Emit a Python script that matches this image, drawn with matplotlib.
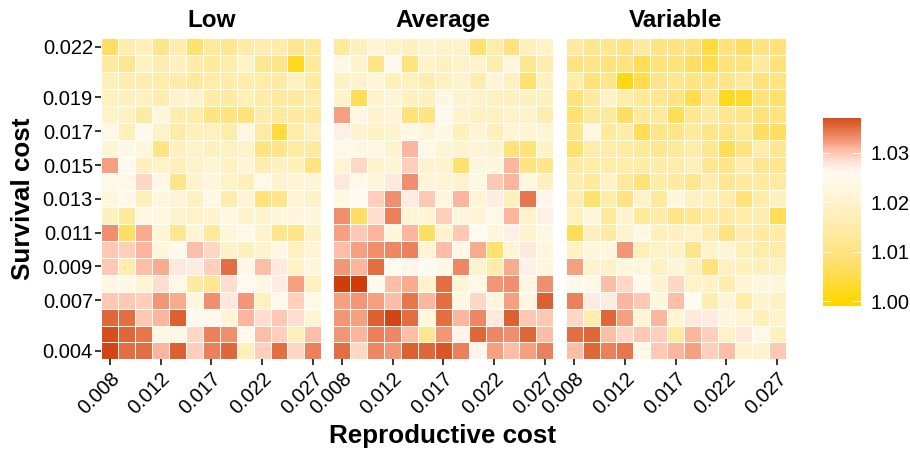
import numpy as np
import matplotlib.pyplot as plt
from matplotlib.colors import LinearSegmentedColormap, Normalize

plt.rcParams['font.family'] = ['Liberation Sans', 'DejaVu Sans']

# cell values as thousandths above 1, rows listed top to bottom
low = [
    [7, 16, 17, 11, 16, 8, 13, 12, 15, 16, 15, 12, 13],
    [14, 12, 18, 16, 18, 15, 13, 15, 19, 12, 11, 2, 13],
    [17, 16, 16, 15, 15, 13, 15, 15, 15, 15, 14, 18, 14],
    [18, 18, 18, 16, 20, 20, 15, 14, 17, 15, 14, 14, 15],
    [19, 18, 14, 22, 16, 15, 10, 10, 9, 15, 13, 14, 14],
    [24, 17, 25, 19, 15, 17, 18, 15, 23, 14, 4, 15, 18],
    [21, 24, 22, 10, 18, 19, 18, 18, 19, 10, 11, 14, 14],
    [32, 25, 18, 19, 17, 19, 21, 18, 21, 16, 18, 17, 10],
    [24, 24, 29, 24, 11, 20, 22, 19, 17, 24, 20, 21, 21],
    [22, 24, 17, 22, 21, 18, 24, 15, 21, 9, 11, 21, 19],
    [18, 13, 23, 23, 20, 19, 20, 23, 20, 20, 22, 22, 22],
    [33, 7, 31.5, 21, 12, 21, 13, 22, 24, 20, 11, 11, 19],
    [30, 29.5, 31, 22, 25, 30.5, 29, 19, 18, 20, 23, 18, 21],
    [30, 16, 30.5, 31.5, 28, 27.5, 29.5, 35, 24, 30.5, 28, 19, 22],
    [23, 24, 21, 28.5, 24, 14, 12, 28.5, 26, 23, 27.5, 32, 18],
    [30, 30, 29.5, 32.5, 31.5, 22, 33, 28, 32.5, 18, 24, 29.5, 24],
    [35.5, 35, 30, 31, 36, 25, 25, 21, 31, 28.5, 30, 28.5, 21],
    [37, 35.5, 34.5, 23, 24, 29, 34, 33, 25, 30.5, 29.5, 17, 30.5],
    [37.5, 35, 35, 31, 36, 29.5, 34, 35.5, 17, 29.5, 35, 29, 34],
]
average = [
    [13, 17, 21, 19, 18, 20, 19, 19, 8, 15, 9, 17, 19],
    [24, 20, 11, 25, 10, 19, 18, 19, 20, 16, 22, 12, 16],
    [19, 20, 22, 17, 18, 16, 18, 20, 16, 21, 18, 8, 18],
    [20, 6, 20, 21, 18, 18, 23, 20, 20, 18, 18, 18, 18],
    [32, 23, 20, 21, 9, 10, 25, 20, 18, 18, 19, 19, 16],
    [27, 20, 19, 20, 23, 21, 24, 17, 21, 17, 21, 21, 21],
    [24, 23, 23, 20, 31, 24, 21, 20, 21, 20, 9, 9, 19],
    [21, 29, 20, 21, 29.5, 20, 20, 8, 22, 22, 31, 10, 11],
    [28, 24, 22, 28, 33, 21, 21, 20, 23, 30, 31, 23, 18],
    [23, 26, 29.5, 33, 27.5, 30, 22, 31, 21, 27.5, 17, 34.5, 26.5],
    [33, 7, 28.5, 34, 21, 21, 29.5, 22, 21, 24, 31, 20, 27],
    [32, 30, 31, 22, 31, 7, 20, 30, 26, 22, 27, 20, 23],
    [30.5, 32, 33, 33.5, 34, 21, 30.5, 24, 31.5, 8, 21, 28, 22],
    [32.5, 31, 35, 26, 26.5, 26, 24, 33.5, 20, 15, 31.5, 27, 22],
    [38, 38, 26, 30.5, 31.5, 20, 35, 21, 24, 32.5, 33, 23, 33],
    [32, 32.5, 32, 30.5, 34.5, 31, 35, 23, 29, 22, 32, 23, 36],
    [32.5, 32, 36, 37.5, 35, 22, 35, 31, 33.5, 28, 36, 30, 30],
    [32.5, 31, 34, 33.5, 30.5, 12, 32.5, 26.5, 35.5, 33.5, 33, 35.5, 30.5],
    [35, 29, 33.5, 32.5, 36, 35.5, 36.5, 34, 26.5, 32, 30.5, 32, 34],
]
variable = [
    [14, 12, 12, 10, 14, 10, 10, 9, 4, 9, 7, 10, 9],
    [10, 11, 9, 10, 6, 9, 9, 7, 5, 9, 10, 14, 9],
    [15, 9, 11, 1, 5, 11, 12, 10, 10, 11, 13, 9, 10],
    [9, 14, 19, 15, 13, 12, 10, 5, 12, 2, 3, 9, 8],
    [8, 13, 13, 7, 13, 13, 6, 12, 14, 12, 11, 9, 10],
    [11, 23, 13, 15, 6, 11, 11, 13, 11, 11, 13, 7, 7],
    [8, 15, 15, 14, 13, 12, 13, 15, 12, 6, 10, 15, 12],
    [14, 15, 15, 15, 15, 15, 15, 17, 12, 11, 16, 12, 12],
    [16, 14, 19, 13, 9, 15, 14, 12, 16, 12, 14, 14, 14],
    [16, 8, 15, 10, 19, 13, 22, 18, 17, 15, 9, 15, 18],
    [18, 22, 13, 20, 13, 15, 11, 12, 14, 14, 15, 16, 6],
    [6, 18, 14, 20, 24, 17, 18, 19, 16, 10, 16, 14, 15],
    [19, 22, 22, 32.5, 17, 19, 19, 11, 20, 21, 17, 15, 15],
    [32, 20, 19, 22, 22, 18, 21, 17, 9, 18, 17, 17, 18],
    [25, 24, 30.5, 29, 25, 20, 29, 19, 19, 16, 21, 22, 22],
    [34, 27.5, 27.5, 31, 30, 22, 30.5, 26, 16, 21, 15, 20, 18],
    [29, 16, 35.5, 32, 21, 31, 21, 28, 27.5, 22, 21, 17, 20],
    [35, 35.5, 30.5, 29, 30, 29.5, 14, 31, 29.5, 19, 28, 24, 18],
    [30.5, 35.5, 34, 34.5, 24, 30, 31, 32, 29.5, 30.5, 20, 20, 30],
]
panel_names = ['Low', 'Average', 'Variable']
x_tick_cols = [0, 3, 6, 9, 12]
x_tick_labels = ['0.008', '0.012', '0.017', '0.022', '0.027']
y_tick_rows = [0, 3, 5, 7, 9, 11, 13, 15, 18]
y_tick_labels = ['0.022', '0.019', '0.017', '0.015', '0.013', '0.011', '0.009', '0.007', '0.004']
legend_ticks = [1.00, 1.01, 1.02, 1.03]

vmin, vmax = 0.9991, 1.0385
legend_top = 1.037
stops = [(0.0, '#FFD700'), (5.0, '#FFDD4D'), (9.0, '#FFE27A'), (13.0, '#FFE99A'),
         (18.0, '#FFF0C0'), (22.0, '#FFF6DC'), (26.0, '#FFFAF0'), (28.0, '#FFE8DC'),
         (29.5, '#FFD0BC'), (31.0, '#FCB8A0'), (32.0, '#F7A080'), (33.0, '#F09070'),
         (34.5, '#E87850'), (35.5, '#E06838'), (37.0, '#D85020')]
# map stops onto the full colour range
cmap = LinearSegmentedColormap.from_list(
    'gold_red',
    [(0.0, '#FFD700')]
    + [((1 + s / 1000 - vmin) / (vmax - vmin), c) for s, c in stops]
    + [(1.0, '#CC3300')])
norm = Normalize(vmin, vmax)

W, H = 910, 450
fig = plt.figure(figsize=(W / 100, H / 100), dpi=100)

def box(x0, y0, x1, y1):
    # pixel box from the top left to figure fractions
    return [x0 / W, 1 - y1 / H, (x1 - x0) / W, (y1 - y0) / H]

lefts = [101.3, 333.3, 565.7]
for i, (name, vals) in enumerate(zip(panel_names, [low, average, variable])):
    ax = fig.add_axes(box(lefts[i], 38.3, lefts[i] + 220, 359.3))
    z = 1 + np.array(vals) / 1000
    ax.pcolormesh(np.arange(14) - .5, np.arange(20) - .5, z, cmap=cmap, norm=norm,
                  edgecolors='white', linewidth=0.4)
    ax.set_xlim(-.5, 12.5)
    ax.set_ylim(18.5, -.5)
    for s in ax.spines.values():
        s.set_visible(False)
    ax.set_title(name, fontsize=17.5, fontweight='bold', pad=8)
    ax.set_xticks(x_tick_cols)
    ax.set_xticklabels(x_tick_labels, rotation=45, ha='right', va='top',
                       rotation_mode='anchor', fontsize=14.5)
    ax.tick_params(axis='x', length=4, width=1.1, pad=3)
    if i == 0:
        ax.set_yticks(y_tick_rows)
        ax.set_yticklabels(y_tick_labels, fontsize=14.5)
        ax.tick_params(axis='y', length=4, width=1.1, pad=2)
    else:
        ax.set_yticks([])

fig.text(443 / W, 1 - 436 / H, 'Reproductive cost', fontsize=18.7, fontweight='bold',
         ha='center', va='center')
fig.text(23 / W, 1 - 199 / H, 'Survival cost', fontsize=18.7, fontweight='bold',
         rotation=90, ha='center', va='center')

# colour legend
cax = fig.add_axes(box(822.7, 118.3, 860.7, 305.7))
cax.imshow(np.linspace(legend_top, vmin, 300).reshape(-1, 1), cmap=cmap, norm=norm, aspect='auto',
           extent=[0, 1, vmin, legend_top])
cax.set_xticks([])
cax.yaxis.tick_right()
cax.set_yticks(legend_ticks)
cax.set_yticklabels(['%.2f' % t for t in legend_ticks], fontsize=14.5)
cax.tick_params(axis='y', length=0, pad=7)
for s in cax.spines.values():
    s.set_visible(False)
for t in legend_ticks:
    cax.plot([0, .2], [t, t], color='white', lw=0.7)
    cax.plot([.8, 1], [t, t], color='white', lw=0.7)
cax.set_xlim(0, 1)
cax.set_ylim(vmin, legend_top)

fig.savefig('out.png', dpi=100)
